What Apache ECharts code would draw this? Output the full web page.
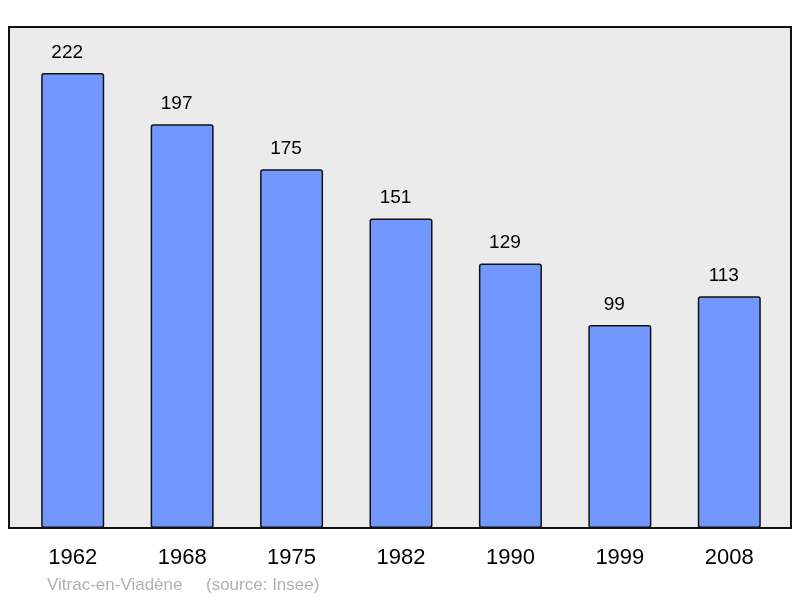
<!DOCTYPE html>
<html><head><meta charset="utf-8">
<script src="https://cdn.jsdelivr.net/npm/echarts@6/dist/echarts.min.js"></script>
<style>html,body{margin:0;padding:0;background:#fff}#c{width:800px;height:598px}</style>
</head><body><div id="c"></div>
<script>
const years = ['1962','1968','1975','1982','1990','1999','2008'];
const population = [222, 197, 175, 151, 129, 99, 113];
const placeName = 'Vitrac-en-Viadène';
const sourceNote = '(source: Insee)';

const chart = echarts.init(document.getElementById('c'), null, {renderer: 'canvas'});
const font = '"Liberation Sans", Arial, sans-serif';
chart.setOption({
  animation: false,
  textStyle: {fontFamily: font},
  title: [
    {text: placeName, left: 47, top: 577, padding: 0, textStyle: {color: '#b0b0b0', fontSize: 17, fontWeight: 'normal', fontFamily: font}},
    {text: sourceNote, left: 206, top: 577, padding: 0, textStyle: {color: '#b0b0b0', fontSize: 17, fontWeight: 'normal', fontFamily: font}}
  ],
  grid: [
    {left: 9, right: 9, top: 27, bottom: 70, show: true, backgroundColor: '#ebebeb', borderColor: '#111', borderWidth: 2, z: 0},
    {left: 18, right: 16, top: 27, bottom: 70, show: false}
  ],
  xAxis: [
    {gridIndex: 0, type: 'value', show: false, min: 0, max: 1},
    {gridIndex: 1, type: 'category', data: years, axisLine: {show: false}, axisTick: {show: false},
     axisLabel: {color: '#000', fontSize: 22, margin: 19, fontFamily: font}}
  ],
  yAxis: [
    {gridIndex: 0, type: 'value', show: false, min: 0, max: 1},
    {gridIndex: 1, type: 'value', show: false, min: 0, max: 244.4, splitLine: {show: false}}
  ],
  series: [{
    type: 'bar', xAxisIndex: 1, yAxisIndex: 1, data: population, barWidth: 63,
    itemStyle: {color: '#7298ff', borderColor: '#111', borderWidth: 1.5, borderRadius: 2},
    label: {show: true, position: 'top', distance: 11, offset: [-5.5, 0], color: '#000', fontSize: 19, fontFamily: font}
  }]
});
</script></body></html>
